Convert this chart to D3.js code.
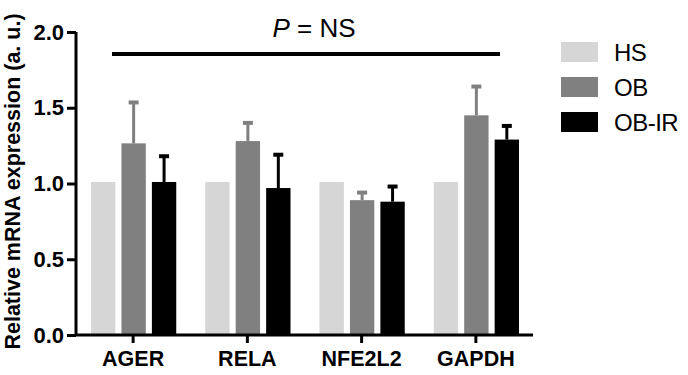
<!DOCTYPE html>
<html><head><meta charset="utf-8">
<script src="https://cdn.jsdelivr.net/npm/d3@7"></script>
<style>body{margin:0;background:#fff}svg{display:block}</style>
</head><body>
<svg id="c" width="688" height="375"></svg>
<script>
const genes = ["AGER", "RELA", "NFE2L2", "GAPDH"];
const groups = ["HS", "OB", "OB-IR"];
const hsMean = [1.01, 1.01, 1.01, 1.01];
const obMean = [1.265, 1.28, 0.89, 1.45];
const obErr = [0.27, 0.12, 0.05, 0.19];
const obirMean = [1.01, 0.97, 0.88, 1.29];
const obirErr = [0.17, 0.22, 0.10, 0.09];
const yTicks = [0.0, 0.5, 1.0, 1.5, 2.0];
const colors = ["#d6d6d6", "#808080", "#000000"];
const sigLabel = "NS";
const sigValue = 1.855;

const means = [hsMean, obMean, obirMean];
const errs = [null, obErr, obirErr];
const FONT = "Liberation Sans, Arial, sans-serif";

const svg = d3.select("#c");
const m = {left: 76, right: 533, top: 32, bottom: 335};
const y = d3.scaleLinear().domain([0, 2]).range([m.bottom, m.top]);
const x0 = d3.scaleBand().domain(genes).range([m.left, m.right]).paddingInner(0).paddingOuter(0);
const x1 = d3.scaleBand().domain(groups).range([15, x0.bandwidth() - 14]).paddingInner(0.2);

const data = [];
genes.forEach((g, i) => groups.forEach((s, j) => {
  data.push({gene: g, grp: s, v: means[j][i], e: errs[j] ? errs[j][i] : null, c: colors[j]});
}));

// error bars (drawn under bars)
const eb = svg.append("g");
data.filter(d => d.e !== null).forEach(d => {
  const cx = x0(d.gene) + x1(d.grp) + x1.bandwidth() / 2;
  eb.append("line").attr("x1", cx).attr("x2", cx).attr("y1", y(d.v)).attr("y2", y(d.v + d.e))
    .attr("stroke", d.c).attr("stroke-width", 3);
  eb.append("line").attr("x1", cx - 5).attr("x2", cx + 5).attr("y1", y(d.v + d.e)).attr("y2", y(d.v + d.e))
    .attr("stroke", d.c).attr("stroke-width", 4);
});

svg.append("g").selectAll("rect").data(data).join("rect")
  .attr("x", d => x0(d.gene) + x1(d.grp))
  .attr("width", x1.bandwidth())
  .attr("y", d => y(d.v))
  .attr("height", d => y(0) - y(d.v))
  .attr("fill", d => d.c);

// axes
const yAxis = svg.append("g").attr("transform", `translate(${m.left},0)`)
  .call(d3.axisLeft(y).tickValues(yTicks).tickFormat(d3.format(".1f")).tickSize(9).tickPadding(3));
const xAxis = svg.append("g").attr("transform", `translate(0,${m.bottom})`)
  .call(d3.axisBottom(x0).tickSize(8).tickPadding(8));
[yAxis, xAxis].forEach(a => {
  a.select(".domain").attr("stroke", "#000").attr("stroke-width", 3);
  a.selectAll(".tick line").attr("stroke", "#000").attr("stroke-width", 3);
  a.selectAll(".tick text").attr("fill", "#000").attr("font-family", FONT).attr("font-weight", "bold");
});
yAxis.selectAll(".tick text").attr("font-size", 22);
xAxis.selectAll(".tick text").attr("font-size", 21.5);
yAxis.select(".domain").attr("d", `M0,${m.bottom}V${m.top}`);
xAxis.select(".domain").attr("d", `M${m.left},0H${m.right}`);

// y title
svg.append("text")
  .attr("transform", `translate(20,181.5) rotate(-90)`)
  .attr("text-anchor", "middle")
  .attr("font-family", FONT)
  .attr("font-weight", "bold").attr("font-size", 21.5)
  .text("Relative mRNA expression (a. u.)");

// significance bar
svg.append("line").attr("x1", 112).attr("x2", 500).attr("y1", y(sigValue)).attr("y2", y(sigValue))
  .attr("stroke", "#000").attr("stroke-width", 4);
const st = svg.append("text").attr("x", 314).attr("y", 37).attr("text-anchor", "middle")
  .attr("font-family", FONT).attr("font-size", 26);
st.append("tspan").attr("font-style", "italic").text("P");
st.append("tspan").text(" = " + sigLabel);

// legend
const lg = svg.append("g").attr("transform", "translate(561,42)");
groups.forEach((g, i) => {
  lg.append("rect").attr("x", 0).attr("y", i * 35).attr("width", 37).attr("height", 20).attr("fill", colors[i]);
  lg.append("text").attr("x", 53).attr("y", i * 35 + 19).attr("font-family", FONT)
    .attr("font-size", 24).attr("letter-spacing", -0.5).attr("fill", "#000").text(g);
});
</script>
</body></html>
